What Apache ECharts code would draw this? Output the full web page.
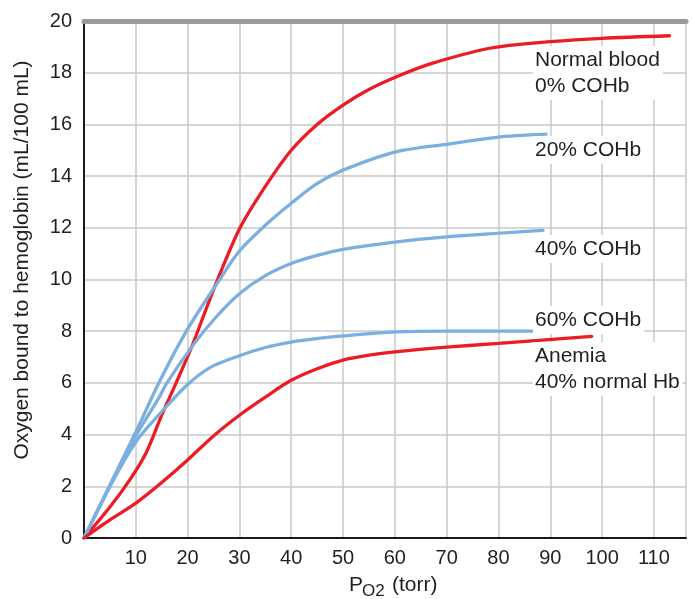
<!DOCTYPE html>
<html>
<head>
<meta charset="utf-8">
<script src="https://cdn.jsdelivr.net/npm/echarts@6/dist/echarts.min.js"></script>
<style>
  html, body { margin: 0; padding: 0; background: #fff; }
  #chart { width: 693px; height: 599px; }
</style>
</head>
<body>
<div id="chart"></div>
<script>
// ---- data (PO2 in torr, O2 bound in mL/100 mL) ----
const normalBlood = [[0,0],[5,1.2],[9,2.3],[12,3.3],[15,4.75],[18,6.1],[21,7.5],[25,9.6],[30,11.95],[35,13.6],[40,15.0],[45,16.0],[50,16.75],[55,17.35],[61,17.9],[67,18.35],[76,18.85],[80,19.0],[90,19.2],[100,19.33],[113,19.43]];
const cohb20 = [[0,0],[5,2.05],[10,4.1],[14.7,6.1],[19.9,8.05],[25.7,9.85],[30,11.1],[35,12.1],[40,12.95],[44.9,13.7],[50.1,14.24],[60.2,14.94],[70.6,15.25],[79.6,15.5],[89.2,15.62]];
const cohb40 = [[0,0],[5,2.0],[10,3.95],[14.4,5.4],[16,6.0],[21.2,7.5],[25.5,8.55],[30,9.45],[35,10.15],[40,10.62],[45,10.93],[50,11.17],[60,11.45],[70,11.65],[88.6,11.9]];
const cohb60 = [[0,0],[5,2.0],[10.25,3.79],[14.7,4.82],[19.9,5.92],[24.4,6.6],[30,7.05],[35,7.37],[40,7.58],[45.6,7.73],[50.1,7.82],[60.2,7.97],[70.6,8.0],[97.6,8.0]];
const anemia = [[0,0],[5,0.7],[10,1.35],[15,2.15],[20,3.02],[25,3.95],[30,4.75],[35,5.45],[40,6.1],[45,6.55],[50,6.88],[55,7.07],[60,7.2],[70,7.38],[80,7.53],[98,7.8]];

const xTicks = [10,20,30,40,50,60,70,80,90,100,110];
const yTicks = [0,2,4,6,8,10,12,14,16,18,20];

const RED = '#ec1c24';
const BLUE = '#7aafdf';
const TXT = '#231f20';
const FONT = '"Liberation Sans", Arial, Helvetica, sans-serif';

const chart = echarts.init(document.getElementById('chart'), null, {renderer: 'canvas'});

function line(name, data, color) {
  return {
    name: name, type: 'line', data: data, smooth: 0.3, symbol: 'none',
    lineStyle: { color: color, width: 3.3, cap: 'round' }, z: 3
  };
}

const labelStyle = { font: '21px ' + FONT, fill: TXT, backgroundColor: '#fff', padding: [1, 3, 1, 2], lineHeight: 26 };

chart.setOption({
  animation: false,
  backgroundColor: '#fff',
  grid: { left: 84, right: 7, top: 21, bottom: 61, containLabel: false },
  xAxis: [{
    type: 'value', min: 0, max: 116.2, interval: 10,
    axisLine: { show: true, lineStyle: { color: '#1a1a1a', width: 2 } },
    axisTick: { show: false },
    splitLine: { show: true, lineStyle: { color: '#c8c8c8', width: 1.5 } },
    axisLabel: {
      margin: 10, fontSize: 20, fontFamily: FONT, color: TXT,
      formatter: v => xTicks.indexOf(v) >= 0 ? String(v) : ''
    }
  }, {
    type: 'value', position: 'top', min: 0, max: 116.2,
    axisLine: { show: true, onZero: false, lineStyle: { color: '#999999', width: 5 } },
    axisTick: { show: false }, axisLabel: { show: false }, splitLine: { show: false }
  }],
  yAxis: {
    type: 'value', min: 0, max: 20, interval: 2,
    axisLine: { show: true, lineStyle: { color: '#1a1a1a', width: 2 } },
    axisTick: { show: false },
    splitLine: { show: true, lineStyle: { color: '#c8c8c8', width: 1.5 } },
    axisLabel: {
      margin: 12, fontSize: 20, fontFamily: FONT, color: TXT,
      formatter: v => yTicks.indexOf(v) >= 0 ? String(v) : ''
    }
  },
  series: [
    line('Normal blood', normalBlood, RED),
    line('20% COHb', cohb20, BLUE),
    line('40% COHb', cohb40, BLUE),
    line('60% COHb', cohb60, BLUE),
    line('Anemia', anemia, RED)
  ],
  graphic: [
    { type: 'text', left: 533, top: 46, z: 10, style: Object.assign({ text: 'Normal blood\n0% COHb' }, labelStyle) },
    { type: 'text', left: 533, top: 136, z: 10, style: Object.assign({ text: '20% COHb' }, labelStyle) },
    { type: 'text', left: 533, top: 235, z: 10, style: Object.assign({ text: '40% COHb' }, labelStyle) },
    { type: 'text', left: 533, top: 306, z: 10, style: Object.assign({ text: '60% COHb' }, labelStyle) },
    { type: 'text', left: 533, top: 342, z: 10, style: Object.assign({ text: 'Anemia\n40% normal Hb' }, labelStyle) },
    { type: 'text', x: 22, y: 260, rotation: Math.PI / 2, z: 10,
      style: { text: 'Oxygen bound to hemoglobin (mL/100 mL)', font: '21px ' + FONT, fill: TXT, align: 'center', verticalAlign: 'middle' } },
    { type: 'text', x: 349, y: 596, z: 10, style: { text: 'P', font: '21px ' + FONT, fill: TXT, verticalAlign: 'bottom' } },
    { type: 'text', x: 362, y: 600, z: 10, style: { text: 'O2', font: '17px ' + FONT, fill: TXT, verticalAlign: 'bottom' } },
    { type: 'text', x: 392, y: 596, z: 10, style: { text: '(torr)', font: '21px ' + FONT, fill: TXT, verticalAlign: 'bottom' } }
  ]
});
</script>
</body>
</html>
